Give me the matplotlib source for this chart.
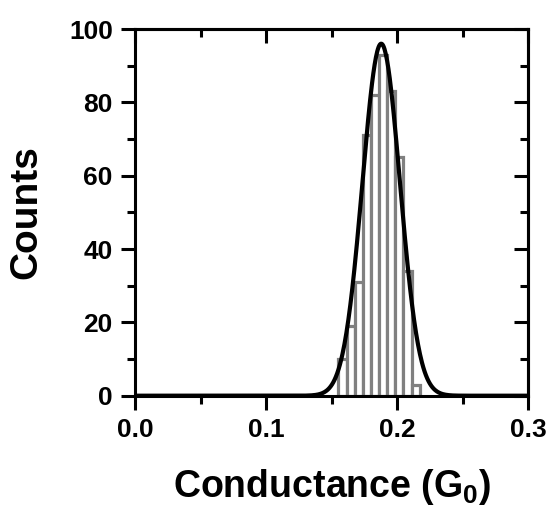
import numpy as np
import matplotlib
matplotlib.use("Agg")
import matplotlib.pyplot as plt
from matplotlib.ticker import MultipleLocator

plt.rcParams['font.family'] = ['Liberation Sans', 'DejaVu Sans']
plt.rcParams['font.weight'] = 'bold'
plt.rcParams['mathtext.fontset'] = 'custom'
plt.rcParams['mathtext.rm'] = 'Liberation Sans:bold'
plt.rcParams['mathtext.bf'] = 'Liberation Sans:bold'

# histogram data (left bin edges, counts)
bin_left = [0.1552, 0.1614, 0.1676, 0.1738, 0.1800, 0.1862, 0.1924, 0.1986, 0.2048, 0.2110]
bin_width = 0.0062
counts = [10, 19, 31, 71, 82, 93, 83, 65, 34, 3]

# gaussian fit parameters
fit_center = 0.1878
fit_sigma = 0.0143
fit_amp = 96

fig = plt.figure(figsize=(5.49, 5.09), dpi=100)
ax = fig.add_axes([0.2459, 0.2226, 0.7164, 0.7204])

ax.bar(bin_left, counts, width=bin_width, align='edge',
       facecolor='white', edgecolor='#808080', linewidth=2.3, zorder=2)

xf = np.linspace(0, 0.3, 600)
yf = fit_amp * np.exp(-(xf - fit_center) ** 2 / (2 * fit_sigma ** 2))
ax.plot(xf, yf, color='black', linewidth=3.0, zorder=3)

ax.set_xlim(0, 0.3)
ax.set_ylim(0, 100)
ax.xaxis.set_major_locator(MultipleLocator(0.1))
ax.xaxis.set_minor_locator(MultipleLocator(0.05))
ax.yaxis.set_major_locator(MultipleLocator(20))
ax.yaxis.set_minor_locator(MultipleLocator(10))
ax.set_xticks([0, 0.1, 0.2, 0.3])
ax.set_xticklabels(['0.0', '0.1', '0.2', '0.3'])

for s in ax.spines.values():
    s.set_linewidth(2.2)

ax.tick_params(which='major', direction='out', length=10, width=2.2,
               labelsize=19, pad=6)
ax.tick_params(which='minor', direction='out', length=6, width=2.2)

# mirrored ticks pointing inward on top and right
top = ax.secondary_xaxis('top')
top.xaxis.set_major_locator(MultipleLocator(0.1))
top.xaxis.set_minor_locator(MultipleLocator(0.05))
top.tick_params(which='major', direction='in', length=10, width=2.2, labeltop=False)
top.tick_params(which='minor', direction='in', length=6, width=2.2)
top.spines['top'].set_linewidth(2.2)

right = ax.secondary_yaxis('right')
right.yaxis.set_major_locator(MultipleLocator(20))
right.yaxis.set_minor_locator(MultipleLocator(10))
right.tick_params(which='major', direction='in', length=10, width=2.2, labelright=False)
right.tick_params(which='minor', direction='in', length=6, width=2.2)
right.spines['right'].set_linewidth(2.2)

ax.set_xlabel('Conductance (G$_{\\mathbf{0}}$)', fontsize=27, fontweight='bold', labelpad=18)
ax.set_ylabel('Counts', fontsize=28, fontweight='bold', labelpad=18)

fig.savefig('out.png', dpi=100)
